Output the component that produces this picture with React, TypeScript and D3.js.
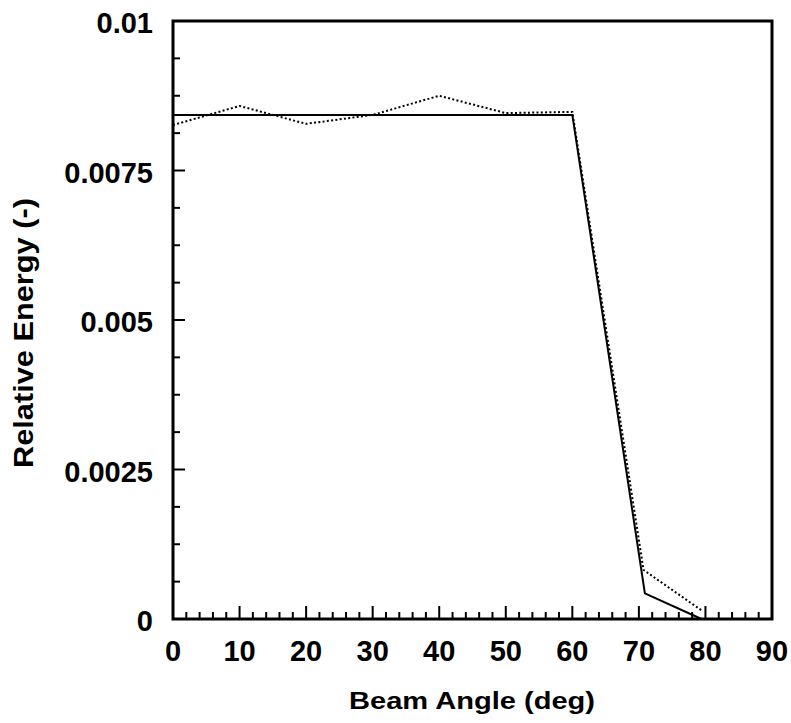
import React from "react";
import * as d3 from "d3";

// Measured beam profile (dotted) and model curve (solid)
const measuredAngles = [0, 10, 20, 30, 40, 50, 60, 70.7, 79.6];
const measuredEnergy = [0.00826, 0.00858, 0.00828, 0.00843, 0.00875, 0.00846, 0.00848, 0.00082, 0.00013];

const modelAngles = [0, 10, 20, 30, 40, 50, 60, 70.9, 79.4];
const modelEnergy = [0.00843, 0.00843, 0.00843, 0.00843, 0.00843, 0.00843, 0.00843, 0.00043, 0];

const xTickValues = [0, 10, 20, 30, 40, 50, 60, 70, 80, 90];
const yTickValues = [0, 0.0025, 0.005, 0.0075, 0.01];
const yTickLabels = ["0", "0.0025", "0.005", "0.0075", "0.01"];

const W = 791;
const H = 723;
const left = 173;
const right = 772;
const top = 21;
const bottom = 619;

const FONT = "'Liberation Sans', Arial, Helvetica, sans-serif";

export default function App() {
  const x = d3.scaleLinear().domain([0, 90]).range([left, right]);
  const y = d3.scaleLinear().domain([0, 0.01]).range([bottom, top]);

  const line = d3
    .line<[number, number]>()
    .x((d) => x(d[0]))
    .y((d) => y(d[1]));

  const measured = measuredAngles.map((a, i) => [a, measuredEnergy[i]] as [number, number]);
  const model = modelAngles.map((a, i) => [a, modelEnergy[i]] as [number, number]);

  // minor ticks: every 2 degrees on x, every 0.000625 on y
  const xMinor = d3.range(2, 90, 2);
  const yMinor = d3.range(1, 16).map((i) => i * 0.000625);

  return (
    <svg
      width={W}
      height={H}
      style={{ position: "absolute", left: 0, top: 0, background: "#fff" }}
    >
      {/* bottom ticks */}
      {xMinor.map((v) => {
        const major = v % 10 === 0;
        return (
          <line
            key={"xt" + v}
            x1={x(v)}
            x2={x(v)}
            y1={bottom}
            y2={bottom - (major ? 13 : 7)}
            stroke="#000"
            strokeWidth={2}
          />
        );
      })}
      {/* left ticks */}
      {yMinor.map((v, i) => {
        const major = (i + 1) % 4 === 0;
        return (
          <line
            key={"yt" + i}
            x1={left}
            x2={left + (major ? 12 : 7)}
            y1={y(v)}
            y2={y(v)}
            stroke="#000"
            strokeWidth={2}
          />
        );
      })}

      {/* data */}
      <path
        d={line(measured) || ""}
        fill="none"
        stroke="#000"
        strokeWidth={2}
        strokeDasharray="2 2.3"
      />
      <path d={line(model) || ""} fill="none" stroke="#000" strokeWidth={2} />

      {/* frame */}
      <rect
        x={left}
        y={top}
        width={right - left}
        height={bottom - top}
        fill="none"
        stroke="#000"
        strokeWidth={3}
      />

      {/* tick labels */}
      {xTickValues.map((v) => (
        <text
          key={"xl" + v}
          x={x(v)}
          y={661}
          textAnchor="middle"
          fontFamily={FONT}
          fontWeight="bold"
          fontSize={29}
          fill="#000"
        >
          {v}
        </text>
      ))}
      {yTickValues.map((v, i) => (
        <text
          key={"yl" + v}
          x={153}
          y={y(v) + 12}
          textAnchor="end"
          fontFamily={FONT}
          fontWeight="bold"
          fontSize={29}
          fill="#000"
        >
          {yTickLabels[i]}
        </text>
      ))}

      {/* axis titles */}
      <text
        x={472}
        y={709}
        textAnchor="middle"
        fontFamily={FONT}
        fontWeight="bold"
        fontSize={24.5}
        textLength={246}
        lengthAdjust="spacingAndGlyphs"
        fill="#000"
      >
        Beam Angle (deg)
      </text>
      <text
        transform={`translate(33, 333) rotate(-90)`}
        textAnchor="middle"
        fontFamily={FONT}
        fontWeight="bold"
        fontSize={27}
        textLength={270}
        lengthAdjust="spacingAndGlyphs"
        fill="#000"
      >
        Relative Energy (-)
      </text>
    </svg>
  );
}
